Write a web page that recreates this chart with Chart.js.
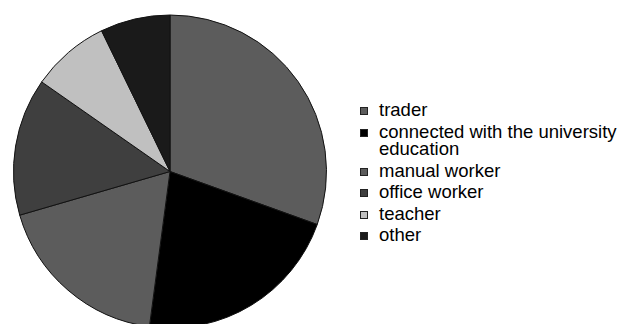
<!DOCTYPE html>
<html>
<head>
<meta charset="utf-8">
<script src="https://cdn.jsdelivr.net/npm/chart.js@4/dist/chart.umd.min.js"></script>
<style>
  html, body { margin: 0; padding: 0; background: #fff; overflow: hidden; width: 628px; height: 324px; }
  #wrap { position: absolute; left: 0; top: 0; width: 340px; height: 343px; }
  #legend { position: absolute; left: 360px; top: 101px; font-family: "Liberation Sans", Arial, sans-serif; font-size: 18.5px; line-height: 17.5px; color: #000; }
  .item { position: relative; padding-left: 19px; margin-bottom: 4px; white-space: nowrap; }
  .box { position: absolute; left: 0; top: 6px; width: 6px; height: 6px; border: 1px solid #222; }
</style>
</head>
<body>
<div id="wrap"><canvas id="c"></canvas></div>
<div id="legend"></div>
<script>
// Occupation categories and their shares (%)
const categories = ["trader", "connected with the university\neducation", "manual worker", "office worker", "teacher", "other"];
const shares = [30.5, 21.6, 18.4, 14.2, 8.1, 7.2];
const sliceColors = ["#5c5c5c", "#000000", "#5c5c5c", "#3f3f3f", "#c0c0c0", "#1a1a1a"];

const chart = new Chart(document.getElementById("c"), {
  type: "pie",
  data: {
    labels: categories,
    datasets: [{
      data: shares,
      backgroundColor: sliceColors,
      borderColor: "#111",
      borderWidth: 1,
      radius: 156.5
    }]
  },
  options: {
    responsive: true,
    maintainAspectRatio: false,
    animation: false,
    layout: { padding: 0 },
    plugins: { legend: { display: false }, tooltip: { enabled: false } }
  }
});

// HTML legend built from the chart's own legend items
const legendEl = document.getElementById("legend");
chart.options.plugins.legend.labels.generateLabels(chart).forEach(li => {
  const item = document.createElement("div");
  item.className = "item";
  const box = document.createElement("span");
  box.className = "box";
  box.style.background = li.fillStyle;
  item.appendChild(box);
  String(li.text).split("\n").forEach((line, i) => {
    if (i) item.appendChild(document.createElement("br"));
    item.appendChild(document.createTextNode(line));
  });
  legendEl.appendChild(item);
});
</script>
</body>
</html>
